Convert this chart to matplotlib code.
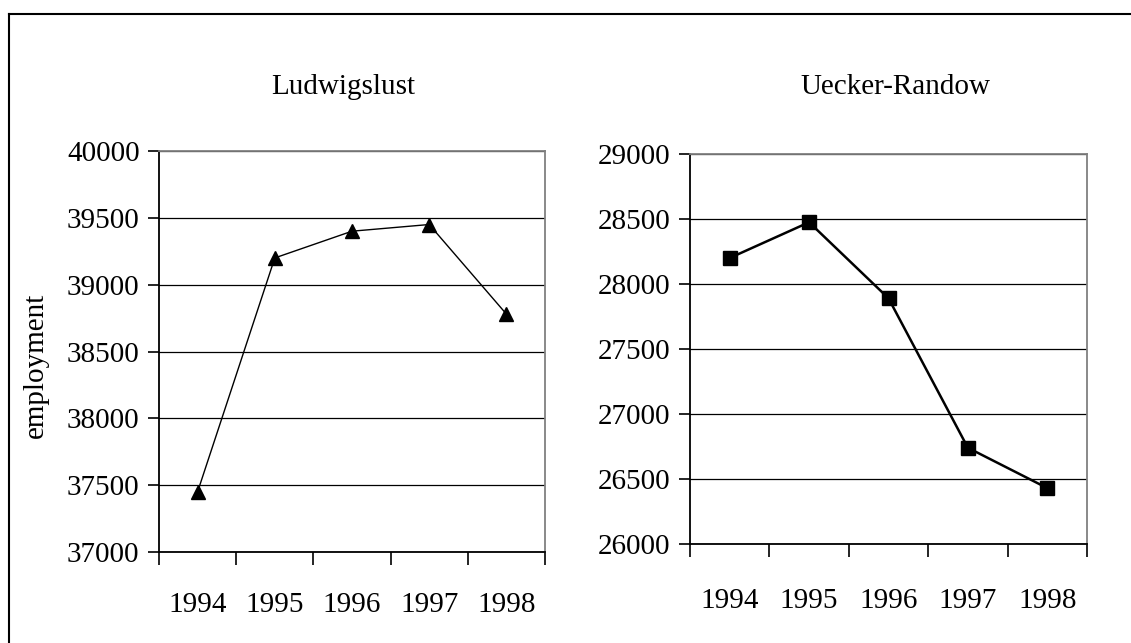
import matplotlib
matplotlib.use("Agg")
import matplotlib.pyplot as plt
from matplotlib.lines import Line2D
from matplotlib.ticker import FixedLocator, NullFormatter

plt.rcParams['font.family'] = ['Liberation Serif', 'DejaVu Serif']

years = ["1994", "1995", "1996", "1997", "1998"]
ludwigslust = [37450, 39200, 39400, 39450, 38780]
uecker_randow = [28200, 28475, 27890, 26740, 26430]

W, H = 1131, 643
FS = 21
fig = plt.figure(figsize=(W / 100, H / 100), dpi=100)


def px_axes(x0, y0, x1, y1):
    # pixel box (top-left origin) -> figure fraction
    return fig.add_axes([x0 / W, 1 - y1 / H, (x1 - x0) / W, (y1 - y0) / H])


def style_panel(ax, values, ylim, marker, msize, lw, label_pad):
    x = list(range(len(values)))
    ax.plot(x, values, color="black", lw=lw, marker=marker, ms=msize,
            mfc="black", mec="black", zorder=3, clip_on=False)
    ax.set_xlim(-0.5, len(values) - 0.5)
    ax.set_ylim(*ylim)
    ax.set_yticks(range(ylim[0], ylim[1] + 1, 500))
    ax.yaxis.grid(True, color="black", lw=0.9)
    ax.set_axisbelow(True)

    # category ticks sit between the years, labels in the middle
    ax.xaxis.set_major_locator(FixedLocator([i - 0.5 for i in range(len(values) + 1)]))
    ax.xaxis.set_major_formatter(NullFormatter())
    ax.xaxis.set_minor_locator(FixedLocator(x))
    ax.set_xticklabels(years, minor=True)
    ax.tick_params(axis="x", which="major", direction="out", length=9, width=1.2)
    ax.tick_params(axis="x", which="minor", length=0, pad=label_pad, labelsize=FS)
    ax.tick_params(axis="y", direction="out", length=8, width=1.2, pad=6, labelsize=FS)

    for side in ("left", "bottom"):
        ax.spines[side].set_color("black")
        ax.spines[side].set_linewidth(1.3)
    for side in ("top", "right"):
        ax.spines[side].set_color("#808080")
        ax.spines[side].set_linewidth(1.3)


ax1 = px_axes(159, 151, 545, 552)
style_panel(ax1, ludwigslust, (37000, 40000), "^", 10, 1.0, 29)

ax2 = px_axes(690, 154, 1087, 544)
style_panel(ax2, uecker_randow, (26000, 29000), "s", 10, 1.8, 32)

fig.text(343 / W, 1 - 87 / H, "Ludwigslust", ha="center", va="center", fontsize=FS)
fig.text(895 / W, 1 - 87 / H, "Uecker-Randow", ha="center", va="center", fontsize=FS)
fig.text(36 / W, 1 - 365 / H, "employment", ha="center", va="center",
         rotation=90, fontsize=FS)

# outer frame (left and top edges)
fig.add_artist(Line2D([9 / W, 9 / W], [0, 1 - 14 / H], transform=fig.transFigure,
                      color="black", lw=1.5))
fig.add_artist(Line2D([9 / W, 1], [1 - 14 / H, 1 - 14 / H], transform=fig.transFigure,
                      color="black", lw=1.5))

fig.savefig("out.png", dpi=100)
